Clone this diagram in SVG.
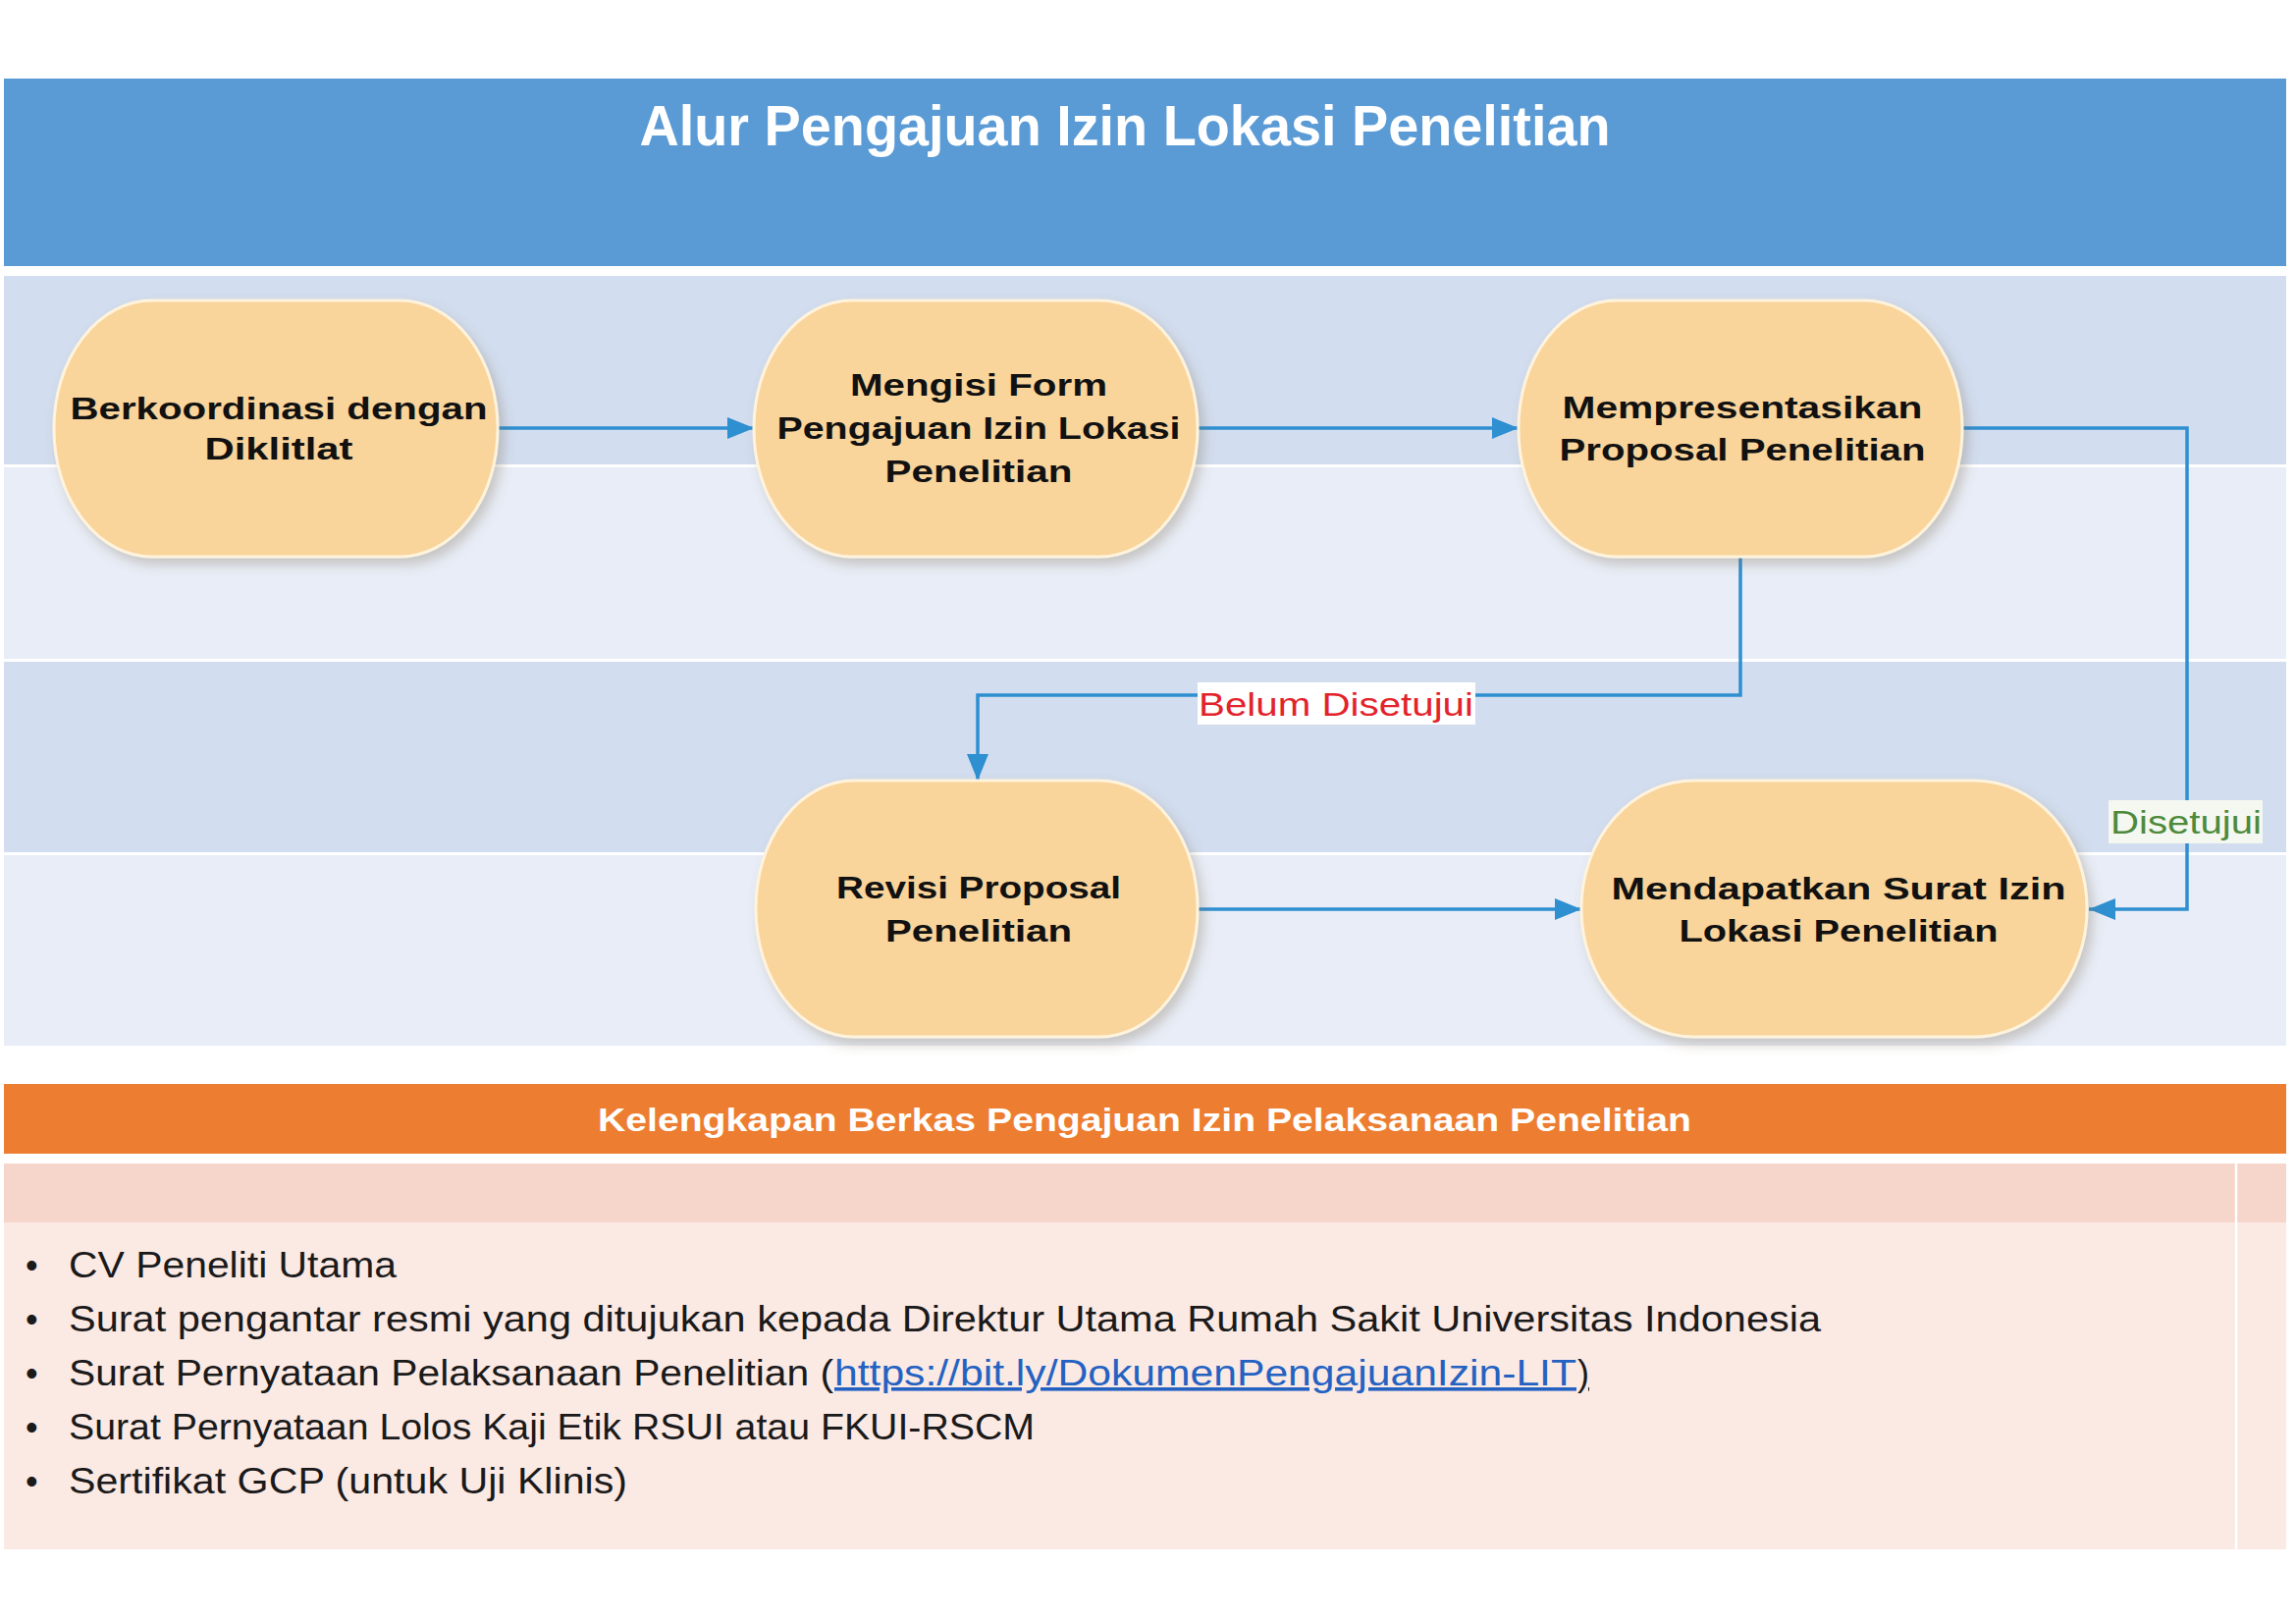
<svg xmlns="http://www.w3.org/2000/svg" width="2339" height="1653" viewBox="0 0 2339 1653">
<style>
.node{fill:#F9D49B;stroke:#FFF3DC;stroke-width:3;filter:url(#sh)}
.nt{font-family:"Liberation Sans",Arial,sans-serif;font-weight:bold;font-size:32px;fill:#111;text-anchor:middle}
.con{fill:none;stroke:#2E8FD1;stroke-width:3.5}
.bul{font-family:"Liberation Sans",Arial,sans-serif;font-size:36px;fill:#1a1a1a}
.lbl{font-family:"Liberation Sans",Arial,sans-serif;font-size:33px;text-anchor:middle}
.dark{fill:#D2DDEF}
.light{fill:#E8EDF7}
</style>
<defs>
<filter id="sh" x="-10%" y="-10%" width="125%" height="130%">
<feDropShadow dx="5" dy="7" stdDeviation="6" flood-color="#7a6a50" flood-opacity="0.3"/>
</filter>
<marker id="ah" markerUnits="userSpaceOnUse" markerWidth="28" markerHeight="24" refX="27" refY="12" orient="auto">
<path d="M0,1 L27,12 L0,23 z" fill="#2E8FD1"/>
</marker>
</defs>
<rect width="2339" height="1653" fill="#FFFFFF"/>

<g id="header">
<rect x="4" y="80" width="2325" height="191" fill="#5B9BD5"/>
<text x="1146" y="148" font-family="Liberation Sans,Arial,sans-serif" font-weight="bold" font-size="58" fill="#FFFFFF" text-anchor="middle" textLength="989" lengthAdjust="spacingAndGlyphs">Alur Pengajuan Izin Lokasi Penelitian</text>
</g>

<g id="lanes">
<rect class="dark" x="4" y="281" width="2325" height="192"/>
<rect class="light" x="4" y="476" width="2325" height="195"/>
<rect class="dark" x="4" y="674" width="2325" height="194"/>
<rect class="light" x="4" y="871" width="2325" height="194"/>
</g>

<g id="connectors">
<line class="con" x1="507" y1="436" x2="768" y2="436" marker-end="url(#ah)"/>
<line class="con" x1="1220" y1="436" x2="1547" y2="436" marker-end="url(#ah)"/>
<polyline class="con" points="1773,567 1773,708 996,708 996,795" marker-end="url(#ah)"/>
<polyline class="con" points="2000,436 2228,436 2228,926 2128,926" marker-end="url(#ah)"/>
<line class="con" x1="1220" y1="926" x2="1611" y2="926" marker-end="url(#ah)"/>
<g id="label-belum">
<rect x="1220" y="695" width="283" height="43" fill="#FFFFFF"/>
<text class="lbl" x="1361" y="729" fill="#E3232B" textLength="280" lengthAdjust="spacingAndGlyphs">Belum Disetujui</text>
</g>
<g id="label-disetujui">
<rect x="2148" y="815" width="157" height="44" fill="#F4F8F0"/>
<text class="lbl" x="2227" y="849" fill="#4E8A3C" textLength="154" lengthAdjust="spacingAndGlyphs">Disetujui</text>
</g>
</g>

<g id="node1">
<rect class="node" x="55" y="306" width="452" height="261" rx="100" ry="130"/>
<text class="nt" x="284" y="427" textLength="425" lengthAdjust="spacingAndGlyphs">Berkoordinasi dengan</text>
<text class="nt" x="284" y="468" textLength="151" lengthAdjust="spacingAndGlyphs">Diklitlat</text>
</g>
<g id="node2">
<rect class="node" x="768" y="306" width="452" height="261" rx="100" ry="130"/>
<text class="nt" x="997" y="403" textLength="262" lengthAdjust="spacingAndGlyphs">Mengisi Form</text>
<text class="nt" x="997" y="447" textLength="411" lengthAdjust="spacingAndGlyphs">Pengajuan Izin Lokasi</text>
<text class="nt" x="997" y="491" textLength="191" lengthAdjust="spacingAndGlyphs">Penelitian</text>
</g>
<g id="node3">
<rect class="node" x="1547" y="306" width="452" height="261" rx="100" ry="130"/>
<text class="nt" x="1775" y="426" textLength="367" lengthAdjust="spacingAndGlyphs">Mempresentasikan</text>
<text class="nt" x="1775" y="469" textLength="373" lengthAdjust="spacingAndGlyphs">Proposal Penelitian</text>
</g>
<g id="node4">
<rect class="node" x="770" y="795" width="450" height="261" rx="100" ry="130"/>
<text class="nt" x="997" y="915" textLength="290" lengthAdjust="spacingAndGlyphs">Revisi Proposal</text>
<text class="nt" x="997" y="959" textLength="190" lengthAdjust="spacingAndGlyphs">Penelitian</text>
</g>
<g id="node5">
<rect class="node" x="1611" y="795" width="515" height="261" rx="115" ry="130"/>
<text class="nt" x="1873" y="916" textLength="463" lengthAdjust="spacingAndGlyphs">Mendapatkan Surat Izin</text>
<text class="nt" x="1873" y="959" textLength="325" lengthAdjust="spacingAndGlyphs">Lokasi Penelitian</text>
</g>

<g id="requirements">
<rect x="4" y="1104" width="2325" height="71" fill="#ED7D31"/>
<text x="1166" y="1152" font-family="Liberation Sans,Arial,sans-serif" font-weight="bold" font-size="34" fill="#FFFFFF" text-anchor="middle" textLength="1114" lengthAdjust="spacingAndGlyphs">Kelengkapan Berkas Pengajuan Izin Pelaksanaan Penelitian</text>
<rect x="4" y="1185" width="2325" height="60" fill="#F6D5CA"/>
<rect x="4" y="1245" width="2325" height="333" fill="#FBE9E4"/>
<line x1="2278" y1="1185" x2="2278" y2="1578" stroke="#FFFFFF" stroke-width="2.5"/>
<g class="bul">
<text x="26" y="1301">•</text>
<text x="26" y="1356">•</text>
<text x="26" y="1411">•</text>
<text x="26" y="1466">•</text>
<text x="26" y="1521">•</text>
<text x="70" y="1301" textLength="334" lengthAdjust="spacingAndGlyphs">CV Peneliti Utama</text>
<text x="70" y="1356" textLength="1785" lengthAdjust="spacingAndGlyphs">Surat pengantar resmi yang ditujukan kepada Direktur Utama Rumah Sakit Universitas Indonesia</text>
<text x="70" y="1411" textLength="779" lengthAdjust="spacingAndGlyphs">Surat Pernyataan Pelaksanaan Penelitian (</text>
<text x="850" y="1411" fill="#2462C2" text-decoration="underline" textLength="756" lengthAdjust="spacingAndGlyphs">https://bit.ly/DokumenPengajuanIzin-LIT</text>
<text x="1607" y="1411" text-decoration="underline">)</text>
<text x="70" y="1466" textLength="984" lengthAdjust="spacingAndGlyphs">Surat Pernyataan Lolos Kaji Etik RSUI atau FKUI-RSCM</text>
<text x="70" y="1521" textLength="569" lengthAdjust="spacingAndGlyphs">Sertifikat GCP (untuk Uji Klinis)</text>
</g>
</g>
</svg>
